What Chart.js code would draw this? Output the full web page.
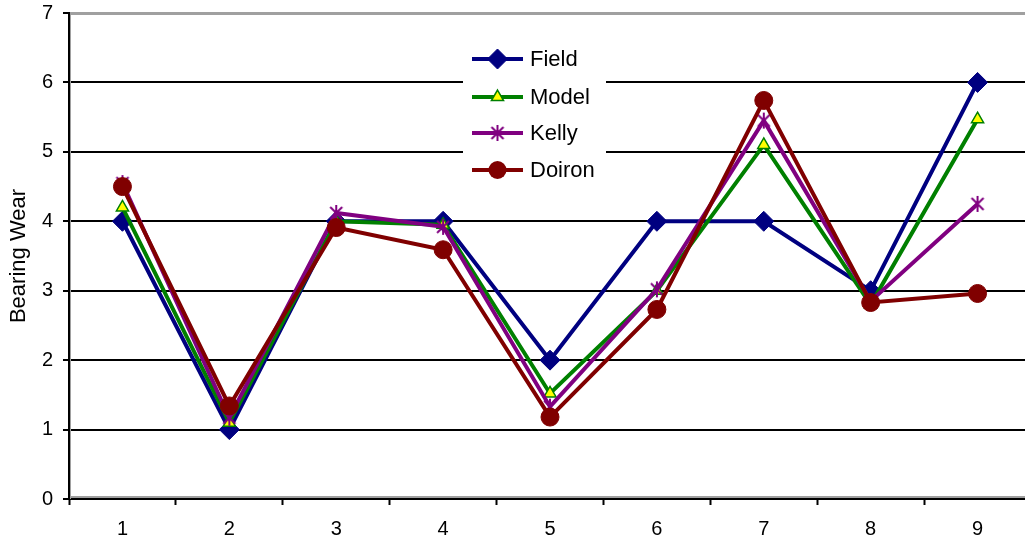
<!DOCTYPE html>
<html>
<head>
<meta charset="utf-8">
<script src="https://cdn.jsdelivr.net/npm/chart.js@4/dist/chart.umd.min.js"></script>
<style>
  html, body { margin: 0; padding: 0; background: #fff; overflow: hidden; }
  #wrap { width: 1031px; height: 544px; }
</style>
</head>
<body>
<div id="wrap"><canvas id="c" width="1031" height="544"></canvas></div>
<script>
// Bearing wear per position: field measurement vs. model predictions
const categories = ['1', '2', '3', '4', '5', '6', '7', '8', '9'];
const fieldWear  = [4, 1, 4, 4, 2, 4, 4, 3, 6];
const modelWear  = [4.2, 1.1, 4.0, 3.95, 1.52, 3.0, 5.1, 2.8, 5.47];
const kellyWear  = [4.55, 1.17, 4.12, 3.92, 1.33, 3.02, 5.45, 2.85, 4.25];
const doironWear = [4.5, 1.34, 3.91, 3.59, 1.18, 2.73, 5.74, 2.83, 2.96];
const yTicks = [0, 1, 2, 3, 4, 5, 6, 7];
const seriesNames = ['Field', 'Model', 'Kelly', 'Doiron'];

const FONT = '"Liberation Sans", Arial, sans-serif';
const PLOT_RIGHT = 1031;

// asterisk marker: an X crossed by a vertical stroke
function makeAsterisk(color, r) {
  const s = Math.ceil(r * 2 + 4);
  const cv = document.createElement('canvas');
  cv.width = s; cv.height = s;
  const g = cv.getContext('2d');
  const c = s / 2;
  g.strokeStyle = color; g.lineWidth = 2;
  g.beginPath();
  g.moveTo(c - r * 0.75, c - r * 0.75); g.lineTo(c + r * 0.75, c + r * 0.75);
  g.moveTo(c + r * 0.75, c - r * 0.75); g.lineTo(c - r * 0.75, c + r * 0.75);
  g.moveTo(c, c - r); g.lineTo(c, c + r);
  g.stroke();
  return cv;
}
const kellyMark = makeAsterisk('#800080', 8);

const seriesStyle = [
  { color: '#000080', pointStyle: 'rectRot', radius: 10, fill: '#000080', pBorder: '#000080', pWidth: 1 },
  { color: '#008000', pointStyle: 'triangle', radius: 7, fill: '#ffff00', pBorder: '#008000', pWidth: 1.5 },
  { color: '#800080', pointStyle: kellyMark, radius: 8, fill: '#800080', pBorder: '#800080', pWidth: 2 },
  { color: '#800000', pointStyle: 'circle', radius: 9, fill: '#800000', pBorder: '#800000', pWidth: 1 }
];
const seriesData = [fieldWear, modelWear, kellyWear, doironWear];

const datasets = seriesNames.map((name, i) => ({
  label: name,
  data: seriesData[i],
  borderColor: seriesStyle[i].color,
  borderWidth: 4,
  tension: 0,
  pointStyle: seriesStyle[i].pointStyle,
  pointRadius: seriesStyle[i].radius,
  pointBackgroundColor: seriesStyle[i].fill,
  pointBorderColor: seriesStyle[i].pBorder,
  pointBorderWidth: seriesStyle[i].pWidth,
  order: seriesNames.length - 1 - i
}));

function drawMarker(g, st, x, y) {
  const r = st.radius;
  g.save();
  g.fillStyle = st.fill; g.strokeStyle = st.pBorder; g.lineWidth = st.pWidth;
  if (st.pointStyle === 'rectRot') {
    g.beginPath();
    g.moveTo(x, y - r); g.lineTo(x + r, y); g.lineTo(x, y + r); g.lineTo(x - r, y);
    g.closePath(); g.fill(); g.stroke();
  } else if (st.pointStyle === 'triangle') {
    const w = r * Math.sqrt(3) / 2;
    g.beginPath();
    g.moveTo(x, y - r); g.lineTo(x + w, y + r / 2); g.lineTo(x - w, y + r / 2);
    g.closePath(); g.fill(); g.stroke();
  } else if (st.pointStyle === 'circle') {
    g.beginPath(); g.arc(x, y, r, 0, Math.PI * 2); g.fill();
  } else {
    const img = st.pointStyle;
    g.drawImage(img, x - img.width / 2, y - img.height / 2);
  }
  g.restore();
}

// legend box drawn over the plot area
const insetLegend = {
  id: 'insetLegend',
  afterDraw(chart) {
    const g = chart.ctx;
    const left = 463, top = 40, w = 143, h = 150;
    g.save();
    g.fillStyle = '#ffffff';
    g.fillRect(left, top, w, h);
    const rows = [59, 97, 133, 170];
    g.font = '22px ' + FONT;
    g.textBaseline = 'middle';
    g.textAlign = 'left';
    seriesNames.forEach((name, i) => {
      const st = seriesStyle[i];
      const y = rows[i];
      g.strokeStyle = st.color; g.lineWidth = 4;
      g.beginPath(); g.moveTo(472, y); g.lineTo(523, y); g.stroke();
      drawMarker(g, st, 497.5, y);
      g.fillStyle = '#000';
      g.fillText(name, 530, y + 1);
    });
    g.restore();
  }
};

// stretch the plot to the right edge of the canvas
const plotExtent = {
  id: 'plotExtent',
  afterLayout(chart) {
    const area = chart.chartArea;
    const d = PLOT_RIGHT - area.right;
    if (d === 0) return;
    area.right = PLOT_RIGHT;
    area.width = area.right - area.left;
    const x = chart.scales.x;
    x.right = PLOT_RIGHT;
    x.width = x.right - x.left;
    x.configure();
  }
};

// shaded frame lines along the plot edges
const frame = {
  id: 'frame',
  beforeDatasetsDraw(chart) {
    const a = chart.chartArea, g = chart.ctx;
    g.save();
    g.fillStyle = '#a0a0a0';
    g.fillRect(a.left, a.top - 1, a.right - a.left, 3);
    g.fillRect(a.left, a.bottom - 3, a.right - a.left, 2);
    g.fillStyle = '#000';
    g.fillRect(a.left, a.bottom - 1, a.right - a.left, 2);
    g.fillStyle = '#a0a0a0';
    g.fillRect(a.left - 1, a.top - 1, 3, a.bottom - a.top + 1);
    g.fillStyle = '#000';
    g.fillRect(a.left - 1, a.top - 1, 2, a.bottom - a.top + 1);
    g.restore();
  }
};

new Chart(document.getElementById('c'), {
  type: 'line',
  data: { labels: categories, datasets },
  options: {
    responsive: false,
    animation: false,
    layout: { padding: { top: 13, right: 0, bottom: 0, left: 0 } },
    plugins: { legend: { display: false }, tooltip: { enabled: false } },
    scales: {
      x: {
        offset: true,
        afterFit(scale) {
          scale.height = 45;
          scale.paddingLeft = 0; scale.paddingRight = 0;
        },
        grid: {
          offset: true,
          drawOnChartArea: false,
          drawTicks: true,
          tickLength: 6,
          tickColor: '#000',
          tickWidth: 2
        },
        border: { display: false },
        ticks: { color: '#000', font: { family: FONT, size: 20 }, padding: 12, maxRotation: 0 }
      },
      y: {
        min: yTicks[0],
        max: yTicks[yTicks.length - 1],
        afterFit(scale) {
          scale.width = 69;
          scale.paddingTop = 0; scale.paddingBottom = 0;
        },
        afterBuildTicks(scale) { scale.ticks = yTicks.map(v => ({ value: v })); },
        grid: {
          color(ctx) {
            const v = ctx.tick && ctx.tick.value;
            return (v === 0 || v === 7) ? 'rgba(0,0,0,0)' : '#000';
          },
          lineWidth: 2,
          drawTicks: true,
          tickLength: 6,
          tickColor: '#000',
          tickWidth: 2
        },
        border: { display: false },
        ticks: { color: '#000', font: { family: FONT, size: 20 }, padding: 10 },
        title: {
          display: true,
          text: 'Bearing Wear',
          color: '#000',
          font: { family: FONT, size: 22 },
          padding: { top: 6, bottom: 0 }
        }
      }
    }
  },
  plugins: [plotExtent, frame, insetLegend]
});
</script>
</body>
</html>
